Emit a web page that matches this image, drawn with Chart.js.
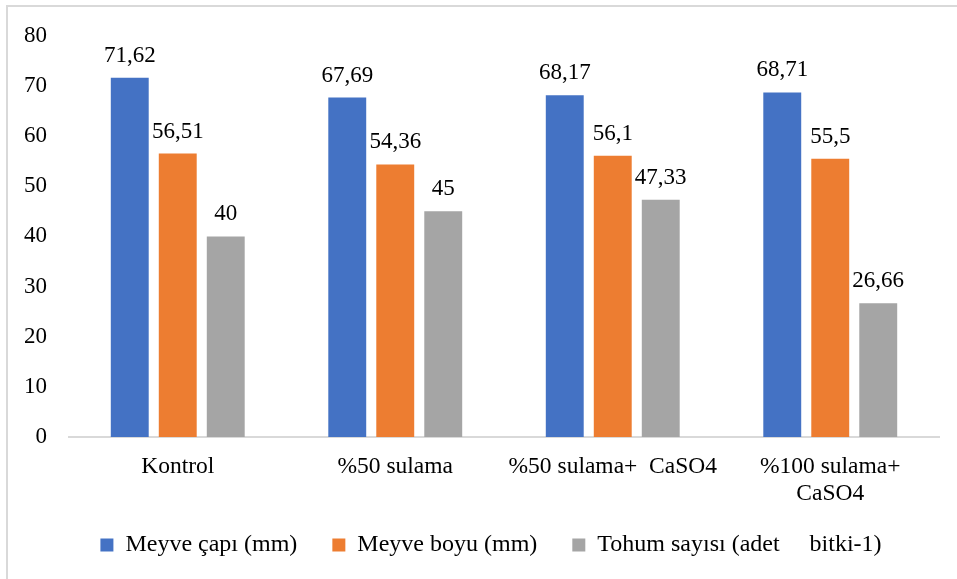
<!DOCTYPE html>
<html>
<head>
<meta charset="utf-8">
<script src="https://cdn.jsdelivr.net/npm/chart.js@4/dist/chart.umd.min.js"></script>
<style>
  html, body { margin: 0; padding: 0; background: #fff; overflow: hidden; }
  #wrap { position: relative; width: 957px; height: 579px; overflow: hidden; }
  #frame { position: absolute; left: 6px; top: 5px; width: 1000px; height: 700px;
           border-left: 2px solid #d9d9d9; border-top: 2px solid #d9d9d9; box-sizing: border-box; }
  canvas { position: absolute; left: 0; top: 0; }
</style>
</head>
<body>
<div id="wrap">
  <div id="frame"></div>
  <canvas id="c" width="982" height="579"></canvas>
</div>
<script>
const categories = ["Kontrol", "%50 sulama", "%50 sulama+  CaSO4", ["%100 sulama+", "CaSO4"]];
const seriesNames = ["Meyve çapı (mm)", "Meyve boyu (mm)", "Tohum sayısı (adet     bitki-1)"];
const meyveCapi = [71.62, 67.69, 68.17, 68.71];
const meyveBoyu = [56.51, 54.36, 56.1, 55.5];
const tohumSayisi = [40, 45, 47.33, 26.66];
const yTicks = [0, 10, 20, 30, 40, 50, 60, 70, 80];

const colors = ["#4472C4", "#ED7D31", "#A5A5A5"];
const FONT = "'Liberation Serif', 'Times New Roman', serif";

const dataLabels = {
  id: 'dataLabels',
  afterDatasetsDraw(chart) {
    const ctx = chart.ctx;
    ctx.save();
    ctx.font = "23px " + FONT;
    ctx.fillStyle = "#000";
    ctx.textAlign = "center";
    ctx.textBaseline = "alphabetic";
    chart.data.datasets.forEach((ds, i) => {
      const meta = chart.getDatasetMeta(i);
      meta.data.forEach((bar, j) => {
        const txt = String(ds.data[j]).replace('.', ',');
        ctx.fillText(txt, bar.x, bar.y - 16);
      });
    });
    ctx.restore();
  }
};

// let the two-line category label extend below the scale box (no clipping)
const unclipX = {
  id: 'unclipX',
  afterLayout(chart) {
    const xs = chart.scales.x;
    if (xs) xs.bottom = chart.height;
  }
};

new Chart(document.getElementById('c'), {
  type: 'bar',
  data: {
    labels: categories,
    datasets: [
      { label: seriesNames[0], data: meyveCapi, backgroundColor: colors[0] },
      { label: seriesNames[1], data: meyveBoyu, backgroundColor: colors[1] },
      { label: seriesNames[2], data: tohumSayisi, backgroundColor: colors[2] }
    ]
  },
  options: {
    responsive: false,
    animation: false,
    devicePixelRatio: 1,
    layout: { padding: { top: 35, right: 0, left: 0, bottom: 12 } },
    datasets: { bar: { categoryPercentage: 0.662, barPercentage: 0.79 } },
    scales: {
      x: {
        grid: { display: false, drawTicks: false },
        border: { display: true, color: "#d9d9d9", width: 2 },
        ticks: { color: "#000", font: { family: FONT, size: 23.5, lineHeight: 1.17 }, padding: 16, maxRotation: 0, autoSkip: false },
        afterFit(scale) { scale.height = 61; }
      },
      y: {
        min: 0, max: 80,
        grid: { display: false, drawTicks: false },
        border: { display: false },
        afterBuildTicks(scale) { scale.ticks = yTicks.map(v => ({ value: v })); },
        ticks: { color: "#000", font: { family: FONT, size: 23 }, padding: 22 },
        afterFit(scale) { scale.width = 69; }
      },
      yRight: {
        position: 'right',
        min: 0, max: 80,
        grid: { display: false, drawTicks: false },
        border: { display: false },
        ticks: { display: false },
        afterFit(scale) { scale.width = 43; }
      }
    },
    plugins: {
      legend: {
        position: 'bottom',
        labels: {
          color: "#000",
          font: { family: FONT, size: 24 },
          boxWidth: 13, boxHeight: 13,
          padding: 35
        }
      },
      tooltip: { enabled: false }
    }
  },
  plugins: [dataLabels, unclipX]
});
</script>
</body>
</html>
